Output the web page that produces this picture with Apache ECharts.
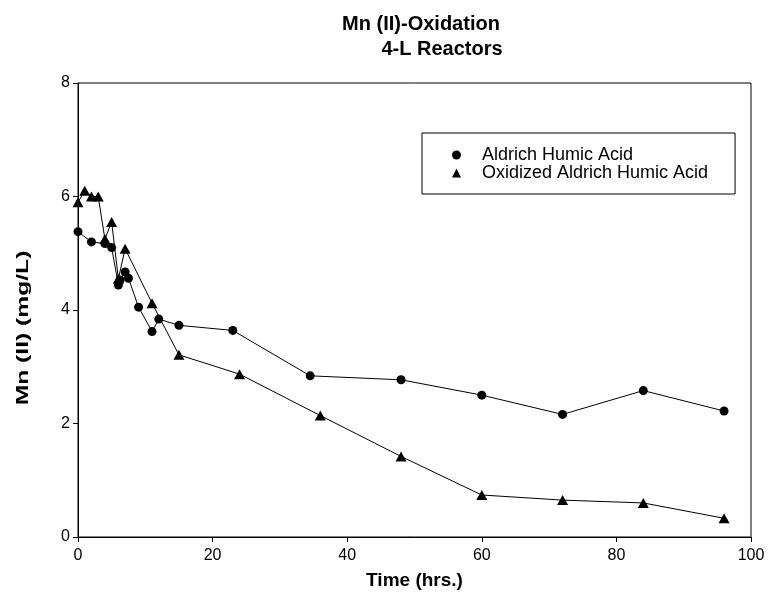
<!DOCTYPE html>
<html>
<head>
<meta charset="utf-8">
<script src="https://cdn.jsdelivr.net/npm/echarts@6/dist/echarts.min.js"></script>
<style>
  html, body { margin: 0; padding: 0; background: #fff; }
  #chart { width: 768px; height: 606px; }
</style>
</head>
<body>
<div id="chart"></div>
<script>
// Sampling times (hours) and dissolved Mn(II) concentrations (mg/L)
const timesAldrich = [0, 2, 4, 5, 6, 6.25, 7, 7.5, 9, 11, 12, 15, 23, 34.5, 48, 60, 72, 84, 96];
const aldrich = [5.38, 5.2, 5.17, 5.1, 4.44, 4.53, 4.67, 4.56, 4.05, 3.62, 3.84, 3.73, 3.64, 2.84, 2.77, 2.5, 2.16, 2.58, 2.22];

const timesOxidized = [0, 1, 2, 3, 4, 5, 6, 7, 11, 15, 24, 36, 48, 60, 72, 84, 96];
const oxidized = [5.9, 6.1, 6.0, 6.0, 5.25, 5.55, 4.55, 5.08, 4.12, 3.21, 2.87, 2.14, 1.42, 0.74, 0.65, 0.60, 0.33];

const seriesNames = ['Aldrich Humic Acid', 'Oxidized Aldrich Humic Acid'];
const xTicks = { min: 0, max: 100, interval: 20 };
const yTicks = { min: 0, max: 8, interval: 2 };

const pairs = (xs, ys) => xs.map((x, i) => [x, ys[i]]);
const FONT = '"Liberation Sans", Arial, sans-serif';

const chart = echarts.init(document.getElementById('chart'), null, { renderer: 'canvas' });

chart.setOption({
  animation: false,
  backgroundColor: '#ffffff',
  title: [
    {
      text: 'Mn (II)-Oxidation',
      left: 416, top: 9, textAlign: 'center',
      textStyle: { fontFamily: FONT, fontSize: 20, fontWeight: 'bold', color: '#000' }
    },
    {
      text: '4-L Reactors',
      left: 437, top: 34, textAlign: 'center',
      textStyle: { fontFamily: FONT, fontSize: 20, fontWeight: 'bold', color: '#000' }
    }
  ],
  // vertical axis title, stretched along its length
  graphic: [
    {
      type: 'text',
      x: 23, y: 328,
      rotation: Math.PI / 2,
      scaleX: 1.45,
      style: {
        text: 'Mn (II) (mg/L)',
        fontFamily: FONT, fontSize: 17, fontWeight: 'bold', fill: '#000',
        align: 'center', verticalAlign: 'middle'
      }
    }
  ],
  legend: {
    orient: 'vertical',
    left: 422, top: 133,
    borderColor: '#000', borderWidth: 1,
    padding: [13, 27, 12, 30],
    itemGap: 0,
    itemWidth: 9, itemHeight: 9,
    textStyle: { fontFamily: FONT, fontSize: 18, color: '#000', padding: [0, 0, 0, 16] },
    data: [
      { name: seriesNames[0], icon: 'circle' },
      { name: seriesNames[1], icon: 'triangle' }
    ]
  },
  grid: {
    left: 78, right: 17, top: 83, bottom: 69,
    show: true, borderColor: '#000', borderWidth: 1, backgroundColor: 'transparent'
  },
  xAxis: {
    type: 'value',
    min: xTicks.min, max: xTicks.max, interval: xTicks.interval,
    name: 'Time (hrs.)', nameLocation: 'middle', nameGap: 34,
    nameTextStyle: { fontFamily: FONT, fontSize: 19, fontWeight: 'bold', color: '#000' },
    axisLine: { show: true, lineStyle: { color: '#000', width: 1 } },
    axisTick: { show: true, inside: false, length: 5, lineStyle: { color: '#000' } },
    axisLabel: { fontFamily: FONT, fontSize: 16, color: '#000', margin: 11 },
    splitLine: { show: false }
  },
  yAxis: {
    type: 'value',
    min: yTicks.min, max: yTicks.max, interval: yTicks.interval,
    axisLine: { show: true, lineStyle: { color: '#000', width: 1 } },
    axisTick: { show: true, inside: false, length: 5, lineStyle: { color: '#000' } },
    axisLabel: { fontFamily: FONT, fontSize: 16, color: '#000', margin: 8 },
    splitLine: { show: false }
  },
  series: [
    {
      name: seriesNames[0],
      type: 'line',
      data: pairs(timesAldrich, aldrich),
      symbol: 'circle', symbolSize: 9,
      lineStyle: { color: '#000', width: 1 },
      itemStyle: { color: '#000', borderWidth: 0 },
      z: 3
    },
    {
      name: seriesNames[1],
      type: 'line',
      data: pairs(timesOxidized, oxidized),
      symbol: 'triangle', symbolSize: [11, 10],
      lineStyle: { color: '#000', width: 1 },
      itemStyle: { color: '#000', borderWidth: 0 },
      z: 2
    }
  ]
});
</script>
</body>
</html>
